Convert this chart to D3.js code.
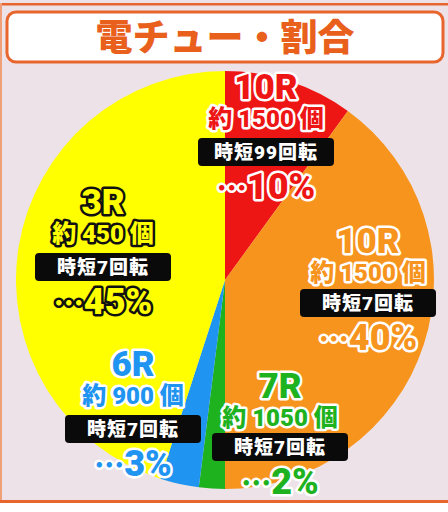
<html>
<head>
<meta charset="utf-8">
<script src="https://d3js.org/d3.v7.min.js"></script>
<style>
  body { margin: 0; background: #fff; }
  text { font-family: Roboto, "Noto Sans CJK JP", sans-serif; font-weight: 900; }
</style>
</head>
<body>
<svg></svg>
<script>
// chart data
var rounds   = ["10R", "10R", "7R", "6R", "3R"];
var balls    = [1500, 1500, 1050, 900, 450];
var jitan    = [99, 7, 7, 7, 7];
var shares   = [10, 40, 2, 3, 45];
var colors   = ["#ee1515", "#f7941d", "#1fb21f", "#1f94f0", "#ffff00"];
var title    = "電チュー・割合";

var width = 448, height = 512;
var cx = 225, cy = 280, radius = 209;

// where each label block sits (center x, top y relative to the pie center), tight = pull box and % line up
var labelPos = [
  {dx: 41,  dy: -207, tight: 0},
  {dx: 143, dy: -53,  tight: 3},
  {dx: 55,  dy: 92,   tight: 4},
  {dx: -92, dy: 70,   tight: 0},
  {dx: -122, dy: -92, tight: 0}
];

var svg = d3.select("svg")
            .attr("width", width)
            .attr("height", height);

// background panel + orange frame lines
svg.append("rect").attr("x", 0).attr("y", 0).attr("width", width).attr("height", 502)
   .attr("fill", "#ede2e7");
svg.append("rect").attr("x", 0).attr("y", 3).attr("width", width).attr("height", 2.5)
   .attr("fill", "#e8662e");
svg.append("rect").attr("x", 0).attr("y", 3).attr("width", 2).attr("height", 499)
   .attr("fill", "#f0a078");
svg.append("rect").attr("x", 0).attr("y", 500).attr("width", width).attr("height", 3)
   .attr("fill", "#e8662e");

// title box
svg.append("rect")
   .attr("x", 7).attr("y", 12).attr("width", 436).attr("height", 50)
   .attr("rx", 9)
   .attr("fill", "#fff")
   .attr("stroke", "#e8662e")
   .attr("stroke-width", 3);
svg.append("text")
   .attr("x", 225).attr("y", 51)
   .attr("text-anchor", "middle")
   .attr("font-family", "'Noto Sans CJK JP'")
   .attr("font-size", 37)
   .attr("fill", "#e8601c")
   .text(title);

// pie
var pie = d3.pie().sort(null).value(function(d) { return d; });
var arc = d3.arc().innerRadius(0).outerRadius(radius);

var g = svg.append("g").attr("transform", "translate(" + cx + "," + cy + ")");
g.selectAll("path")
 .data(pie(shares))
 .enter()
 .append("path")
 .attr("d", arc)
 .attr("fill", function(d, i) { return colors[i]; });

// labels
var labels = g.selectAll(".lbl")
  .data(shares)
  .enter()
  .append("g")
  .attr("class", "lbl")
  .attr("transform", function(d, i) { return "translate(" + labelPos[i].dx + "," + labelPos[i].dy + ")"; });

function outline(i) { return i == 4 ? "#111" : "#fff"; }

labels.append("text")
  .attr("y", 26)
  .attr("text-anchor", "middle")
  .attr("font-size", 35)
  .attr("fill", function(d, i) { return colors[i]; })
  .attr("stroke", function(d, i) { return outline(i); })
  .attr("stroke-width", 5)
  .attr("stroke-linejoin", "round")
  .attr("paint-order", "stroke")
  .text(function(d, i) { return rounds[i]; });

labels.append("text")
  .attr("y", 54)
  .attr("text-anchor", "middle")
  .attr("font-size", 24)
  .attr("fill", function(d, i) { return colors[i]; })
  .attr("stroke", function(d, i) { return outline(i); })
  .attr("stroke-width", 5)
  .attr("stroke-linejoin", "round")
  .attr("paint-order", "stroke")
  .text(function(d, i) { return "約 " + balls[i] + " 個"; });

labels.append("rect")
  .attr("x", -68)
  .attr("y", function(d, i) { return 65 - labelPos[i].tight; })
  .attr("width", 136).attr("height", 28)
  .attr("rx", 4)
  .attr("fill", "#0a0a0a");

labels.append("text")
  .attr("y", function(d, i) { return 86 - labelPos[i].tight; })
  .attr("text-anchor", "middle")
  .attr("font-size", 19)
  .attr("letter-spacing", 1)
  .attr("fill", "#fff")
  .text(function(d, i) { return "時短" + jitan[i] + "回転"; });

var pct = labels.append("text")
  .attr("y", function(d, i) { return 126 - labelPos[i].tight; })
  .attr("text-anchor", "middle")
  .attr("font-size", 36)
  .attr("fill", function(d, i) { return colors[i]; })
  .attr("stroke", function(d, i) { return outline(i); })
  .attr("stroke-width", 5)
  .attr("stroke-linejoin", "round")
  .attr("paint-order", "stroke");
pct.append("tspan")
  .attr("font-family", "'Noto Sans CJK JP'")
  .attr("font-size", 30)
  .text("…");
pct.append("tspan")
  .text(function(d) { return d + "%"; });
</script>
</body>
</html>
